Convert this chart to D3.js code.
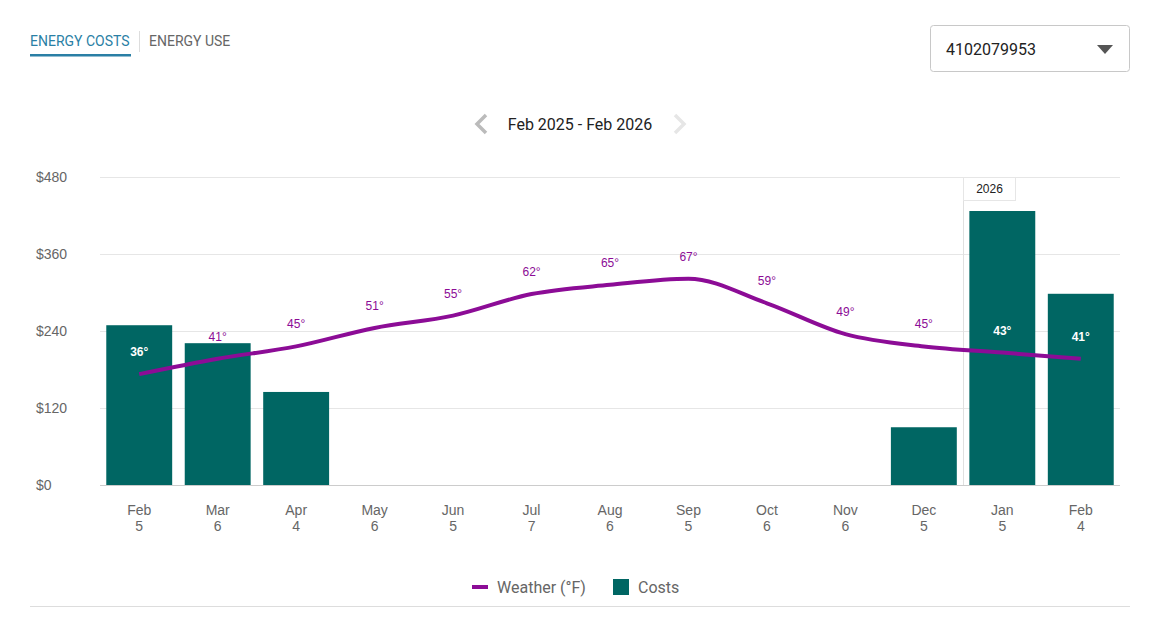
<!DOCTYPE html>
<html>
<head>
<meta charset="utf-8">
<script src="https://cdn.jsdelivr.net/npm/d3@7"></script>
<style>
  body { margin: 0; background: #fff; font-family: Roboto, "Open Sans", sans-serif; }
  #chart { width: 1153px; height: 623px; }
</style>
</head>
<body>
<div id="chart"></div>
<script>
// months on the x axis, and the number shown under each
const months = ["Feb", "Mar", "Apr", "May", "Jun", "Jul", "Aug", "Sep", "Oct", "Nov", "Dec", "Jan", "Feb"];
const subLabels = ["5", "6", "4", "6", "5", "7", "6", "5", "6", "6", "5", "5", "4"];
// costs in dollars (null = no bar)
const costs = [249, 221, 145, null, null, null, null, null, null, null, 90, 427, 298];
// average temperature in °F
const temps = [36, 41, 45, 51, 55, 62, 65, 67, 59, 49, 45, 43, 41];
const yTicks = [0, 120, 240, 360, 480];

const W = 1153, H = 623;
const barColor = "#006663";
const lineColor = "#8c0c96";
const axisFont = "'Liberation Sans', Arial, sans-serif";
const keys = months.map((m, i) => i);

const svg = d3.select("#chart").append("svg")
  .attr("width", W)
  .attr("height", H);

// tabs
svg.append("text").attr("x", 30).attr("y", 46)
  .attr("font-size", 14).attr("fill", "#2a7fa5").text("ENERGY COSTS");
svg.append("rect").attr("x", 30).attr("y", 54).attr("width", 101).attr("height", 2.5).attr("fill", "#2a7fa5");
svg.append("line").attr("x1", 139.5).attr("x2", 139.5).attr("y1", 31).attr("y2", 52).attr("stroke", "#ddd");
svg.append("text").attr("x", 149).attr("y", 46)
  .attr("font-size", 14).attr("fill", "#666").text("ENERGY USE");

// dropdown
svg.append("rect").attr("x", 930.5).attr("y", 25.5).attr("width", 199).attr("height", 46).attr("rx", 3)
  .attr("fill", "#fff").attr("stroke", "#c8c8c8");
svg.append("text").attr("x", 946).attr("y", 55).attr("font-size", 16).attr("fill", "#222").text("4102079953");
svg.append("path").attr("d", "M1097,45 L1113,45 L1105,54 Z").attr("fill", "#555");

// date nav
svg.append("text").attr("x", 580).attr("y", 130).attr("text-anchor", "middle")
  .attr("font-size", 16).attr("fill", "#222").text("Feb 2025 - Feb 2026");
svg.append("path").attr("d", "M486,115 L477,124 L486,133").attr("fill", "none")
  .attr("stroke", "#bbb").attr("stroke-width", 3.5);
svg.append("path").attr("d", "M675,115 L684,124 L675,133").attr("fill", "none")
  .attr("stroke", "#e6e6e6").attr("stroke-width", 3.5);

// scales
const x = d3.scaleBand().domain(keys).range([100, 1120]).paddingInner(0.16).paddingOuter(0.08);
const y = d3.scaleLinear().domain([0, 480]).range([485, 177]);
const yT = d3.scaleLinear().domain([0, 100]).range([485, 177]);
const cx = i => x(i) + x.bandwidth() / 2;

// grid
const yAxis = d3.axisLeft(y).tickValues(yTicks).tickSize(-1020).tickFormat(d => "$" + d);
const gy = svg.append("g").attr("transform", "translate(100,0)").call(yAxis);
gy.select(".domain").remove();
gy.selectAll(".tick line").attr("stroke", "#e6e6e6");
gy.selectAll(".tick text").attr("x", -64).attr("text-anchor", "start")
  .attr("font-size", 14).attr("fill", "#666").attr("font-family", axisFont);
gy.selectAll(".tick").filter(d => d === 0).select("line").attr("stroke", "#ccc");

// year divider
const yearX = Math.round(x(11) - x.step() * x.paddingInner() / 2) + 0.5;
svg.append("line").attr("x1", yearX).attr("x2", yearX).attr("y1", 177).attr("y2", 485).attr("stroke", "#e0e0e0");
svg.append("rect").attr("x", yearX).attr("y", 177.5).attr("width", 52).attr("height", 23)
  .attr("fill", "#fff").attr("stroke", "#e6e6e6");
svg.append("text").attr("x", yearX + 26).attr("y", 193).attr("text-anchor", "middle")
  .attr("font-size", 12).attr("fill", "#222").attr("font-family", axisFont).text("2026");

// bars
svg.append("g").selectAll("rect")
  .data(keys.filter(i => costs[i] != null))
  .enter()
  .append("rect")
  .attr("x", i => x(i))
  .attr("width", x.bandwidth())
  .attr("y", i => y(costs[i]))
  .attr("height", i => y(0) - y(costs[i]))
  .attr("fill", barColor);

// x axis labels (two lines)
const xAxis = d3.axisBottom(x).tickSize(0).tickFormat("");
const gx = svg.append("g").attr("transform", "translate(0,485)").call(xAxis);
gx.select(".domain").remove();
gx.selectAll(".tick text").remove();
gx.selectAll(".tick").each(function (i) {
  const t = d3.select(this);
  t.append("text").attr("y", 30).attr("text-anchor", "middle")
    .attr("font-size", 14).attr("fill", "#666").attr("font-family", axisFont).text(months[i]);
  t.append("text").attr("y", 46).attr("text-anchor", "middle")
    .attr("font-size", 14).attr("fill", "#666").attr("font-family", axisFont).text(subLabels[i]);
});

// temperature line
const line = d3.line()
  .x(i => cx(i))
  .y(i => yT(temps[i]))
  .curve(d3.curveMonotoneX);
svg.append("path").datum(keys).attr("d", line)
  .attr("fill", "none").attr("stroke", lineColor).attr("stroke-width", 4);

// temperature labels, white when they sit inside a bar
const inBar = i => costs[i] != null && y(costs[i]) < yT(temps[i]) - 28;
svg.append("g").selectAll("text")
  .data(keys)
  .enter()
  .append("text")
  .attr("x", i => cx(i))
  .attr("y", i => yT(temps[i]) - 18)
  .attr("text-anchor", "middle")
  .attr("font-family", axisFont)
  .attr("font-size", 12)
  .attr("font-weight", i => inBar(i) ? "bold" : "normal")
  .attr("fill", i => inBar(i) ? "#fff" : lineColor)
  .text(i => temps[i] + "°");

// legend
svg.append("line").attr("x1", 472).attr("x2", 488).attr("y1", 587).attr("y2", 587)
  .attr("stroke", lineColor).attr("stroke-width", 4);
svg.append("text").attr("x", 497).attr("y", 593).attr("font-size", 16).attr("fill", "#666").text("Weather (°F)");
svg.append("rect").attr("x", 613).attr("y", 579).attr("width", 16).attr("height", 16).attr("fill", barColor);
svg.append("text").attr("x", 638).attr("y", 593).attr("font-size", 16).attr("fill", "#666").text("Costs");

// bottom rule
svg.append("line").attr("x1", 30).attr("x2", 1130).attr("y1", 606.5).attr("y2", 606.5).attr("stroke", "#ddd");
</script>
</body>
</html>
